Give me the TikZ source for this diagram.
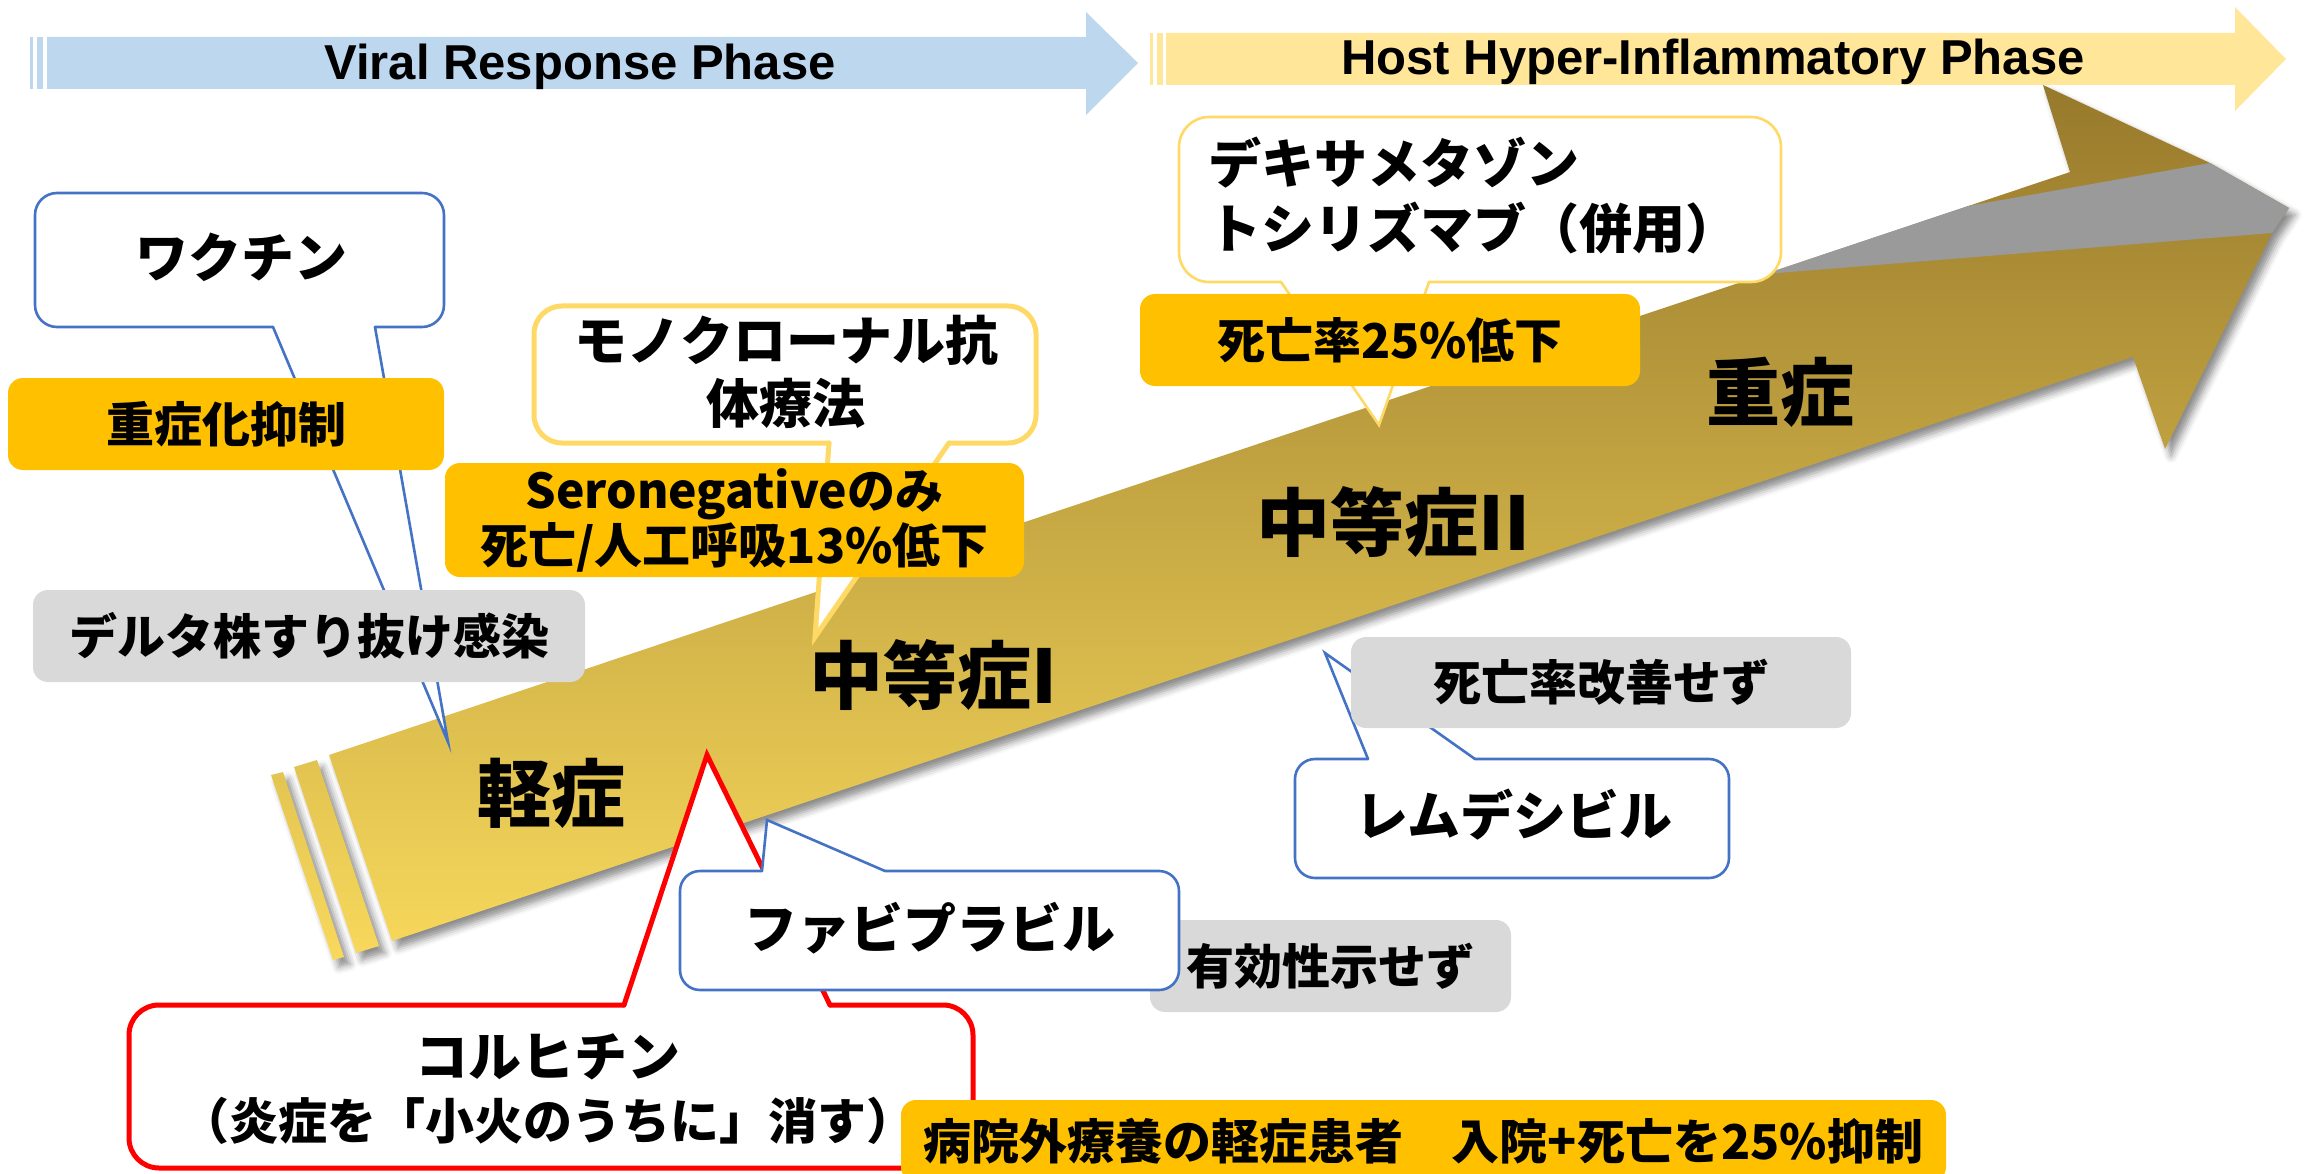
\documentclass[tikz,border=0pt]{standalone}
\usepackage{fontspec}
\newfontfamily\jp{Noto Sans CJK JP}
\newfontfamily\phasefont{Liberation Sans}
\usetikzlibrary{shadows.blur}
\definecolor{phaseblue}{HTML}{BDD7EE}
\definecolor{phaseyellow}{HTML}{FFE699}
\definecolor{orangeC}{HTML}{FFC000}
\definecolor{greyC}{HTML}{D9D9D9}
\definecolor{blueC}{HTML}{4472C4}
\definecolor{yellowC}{HTML}{FFD966}
\definecolor{redC}{HTML}{FF0000}
\definecolor{goldtop}{HTML}{97792C}
\definecolor{goldbot}{HTML}{F8D95C}
\definecolor{sliver}{HTML}{9A9A9A}
% #1 style, #2 radius, #3 corner A, #4 opposite corner C, #5 base 1, #6 base 2, #7 tip
\newcommand\callshape[7]{%
  \fill[white,rounded corners=#2] (#3) rectangle (#4);
  \fill[white] (#5) -- (#7) -- (#6) -- cycle;
  \draw[#1,rounded corners=#2] (#6) -- (#3) -- (#3 |- #4) -- (#4) -- (#4 |- #3) -- (#5);
  \draw[#1] (#5) -- (#7) -- (#6);
}
\begin{document}
\begin{tikzpicture}[x=1pt,y=-1pt,
  phase/.style={font=\phasefont\bfseries\fontsize{49}{58}\selectfont, inner sep=0pt},
  ctext/.style={font=\jp\bfseries\fontsize{53}{63}\selectfont, inner sep=0pt, align=center},
  btext/.style={font=\jp\bfseries\fontsize{48}{55}\selectfont, inner sep=0pt, align=center},
  stage/.style={font=\jp\bfseries\fontsize{74}{80}\selectfont, inner sep=0pt},
  obox/.style={btext, fill=orangeC, rounded corners=15pt},
  gbox/.style={btext, fill=greyC, rounded corners=15pt},
  bluecall/.style={draw=blueC, line width=2.6pt, line cap=round, line join=miter},
  yellowthick/.style={draw=yellowC, line width=5pt, line cap=round, line join=miter},
  yellowthin/.style={draw=yellowC, line width=2.6pt, line cap=round, line join=miter},
  redcall/.style={draw=redC, line width=5pt, line cap=round, line join=miter}
]
\useasboundingbox (0,0) rectangle (2308,1174);
\clip (0,0) rectangle (2308,1174);

% ---- phase arrows
\fill[phaseblue] (30,37) rectangle (33,89);
\fill[phaseblue] (37,37) rectangle (43,89);
\fill[phaseblue] (47,37) -- (1086,37) -- (1086,12) -- (1138,63) -- (1086,115) -- (1086,89) -- (47,89) -- cycle;
\node[phase, anchor=base] (vrp) at (580,80) {Viral Response Phase};
\fill[phaseyellow] (1150,33) rectangle (1153,85);
\fill[phaseyellow] (1157,33) rectangle (1163,85);
\fill[phaseyellow] (1166,33) -- (2235,33) -- (2235,7) -- (2286,59) -- (2235,111) -- (2235,85) -- (1166,85) -- cycle;
\node[phase, anchor=base] (hhp) at (1713,75) {Host Hyper-Inflammatory Phase};

% ---- big arrow
\shade[top color=goldtop, bottom color=goldbot,
  blur shadow={shadow xshift=6pt, shadow yshift=-7pt, shadow blur radius=7pt, shadow opacity=45}]
  (329,755) -- (2070,172) -- (2043,85) -- (2210,163) -- (2289,208) -- (2272,233)
  -- (2165,449) -- (2133,357) -- (392,941) -- cycle
  (294,767) -- (317,760) -- (379,946) -- (356,953) -- cycle
  (271,775) -- (283,772) -- (344,957) -- (333,960) -- cycle;
\fill[sliver] (1765,274) -- (1968,206) -- (2210,163) -- (2289,208) -- (2272,233) -- cycle;

\node[stage] (mild) at (551,793) {軽症};
\node[stage] (mod1) at (933,675) {中等症I};
\node[stage] (mod2) at (1393,522) {中等症II};
\node[stage] (sev2) at (1780,392) {重症};

% ---- vaccine
\coordinate (vacA) at (444,327); \coordinate (vacC) at (35,193);
\coordinate (vacB1) at (273,327); \coordinate (vacB2) at (375,327);
\coordinate (vacT) at (448,742);
\callshape{bluecall}{22pt}{vacA}{vacC}{vacB1}{vacB2}{vacT}
\node[ctext] (vac) at (241,257) {ワクチン};
\node[obox, minimum width=436pt, minimum height=92pt] (supp) at (226,424) {重症化抑制};
\node[gbox, minimum width=552pt, minimum height=92pt] (delta) at (309,636) {デルタ株すり抜け感染};

% ---- monoclonal antibody
\coordinate (mabA) at (1036,443); \coordinate (mabC) at (534,306);
\coordinate (mabB1) at (829,443); \coordinate (mabB2) at (949,443);
\coordinate (mabT) at (815,637);
\callshape{yellowthick}{28pt}{mabA}{mabC}{mabB1}{mabB2}{mabT}
\node[ctext] (mab) at (786,372) {モノクローナル抗\\体療法};
\node[obox, minimum width=579pt, minimum height=114pt] (sero) at (734.5,520)
  {Seronegativeのみ\\死亡/人工呼吸13\%低下};

% ---- dexamethasone
\coordinate (dexA) at (1781,282); \coordinate (dexC) at (1179,117);
\coordinate (dexB1) at (1281,282); \coordinate (dexB2) at (1429,282);
\coordinate (dexT) at (1379,425);
\callshape{yellowthin}{30pt}{dexA}{dexC}{dexB1}{dexB2}{dexT}
\node[ctext, align=left, anchor=west, font=\jp\bfseries\fontsize{53}{65}\selectfont] (dex) at (1208,195)
  {デキサメタゾン\\トシリズマブ（併用）};
\node[obox, minimum width=500pt, minimum height=92pt] (dex25) at (1390,340) {死亡率25\%低下};

% ---- remdesivir
\coordinate (remA) at (1295,759); \coordinate (remC) at (1729,878);
\coordinate (remB1) at (1475,759); \coordinate (remB2) at (1368,759);
\coordinate (remT) at (1325,653);
\callshape{bluecall}{20pt}{remA}{remC}{remB1}{remB2}{remT}
\node[ctext] (rem) at (1514,815) {レムデシビル};
\node[gbox, minimum width=500pt, minimum height=91pt] (remno) at (1601,682.5) {死亡率改善せず};

% ---- colchicine
\coordinate (colA) at (129,1005); \coordinate (colC) at (973,1168);
\coordinate (colB1) at (830,1005); \coordinate (colB2) at (624,1005);
\coordinate (colT) at (707,755);
\callshape{redcall}{30pt}{colA}{colC}{colB1}{colB2}{colT}
\node[ctext] (col) at (548,1057) {コルヒチン};
\node[ctext, font=\jp\bfseries\fontsize{49}{60}\selectfont] (colsub) at (548,1121) {（炎症を「小火のうちに」消す）};

% ---- favipiravir
\node[gbox, minimum width=361pt, minimum height=92pt] (favno) at (1330.5,966) {有効性示せず};
\coordinate (favA) at (680,871); \coordinate (favC) at (1179,990);
\coordinate (favB1) at (885,871); \coordinate (favB2) at (762,871);
\coordinate (favT) at (767,820);
\callshape{bluecall}{20pt}{favA}{favC}{favB1}{favB2}{favT}
\node[ctext] (fav) at (930,928) {ファビプラビル};

% ---- outpatient result
\node[obox, minimum width=1045pt, minimum height=82pt] (outp) at (1423.5,1141)
  {病院外療養の軽症患者　入院+死亡を25\%抑制};
\end{tikzpicture}
\end{document}
